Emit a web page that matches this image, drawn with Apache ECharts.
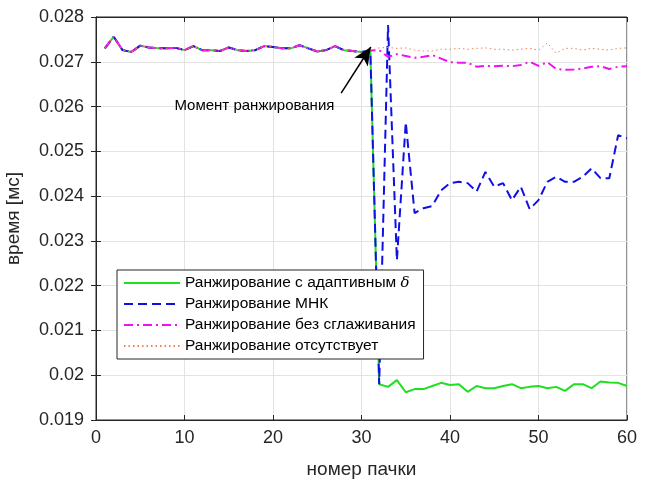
<!DOCTYPE html>
<html>
<head>
<meta charset="utf-8">
<script src="https://cdn.jsdelivr.net/npm/echarts@6/dist/echarts.min.js"></script>
<style>
  html, body { margin: 0; padding: 0; background: #fff; }
  #chart { width: 657px; height: 481px; }
</style>
</head>
<body>
<div id="chart"></div>
<script>
  // номер пачки
  var packets = [1, 2, 3, 4, 5, 6, 7, 8, 9, 10, 11, 12, 13, 14, 15, 16, 17, 18, 19, 20,
    21, 22, 23, 24, 25, 26, 27, 28, 29, 30, 31, 32, 33, 34, 35, 36, 37, 38, 39, 40,
    41, 42, 43, 44, 45, 46, 47, 48, 49, 50, 51, 52, 53, 54, 55, 56, 57, 58, 59, 60];

  // до момента ранжирования все кривые совпадают (пачки 1..31)
  var common = [0.02730, 0.02756, 0.02726, 0.02722, 0.02736, 0.02732, 0.02730, 0.02730, 0.02731, 0.02726,
    0.02735, 0.02726, 0.02726, 0.02724, 0.02732, 0.02726, 0.02724, 0.02726, 0.02735, 0.02733,
    0.02730, 0.02730, 0.02737, 0.02730, 0.02723, 0.02726, 0.02735, 0.02726, 0.02724, 0.02722,
    0.02725];

  // пачки 32..60
  var adaptiveTail = [0.01980, 0.01974, 0.01989, 0.01962, 0.01969, 0.01969, 0.01976, 0.01983, 0.01978,
    0.01980, 0.01963, 0.01976, 0.01971, 0.01971, 0.01976, 0.01980, 0.01971, 0.01974, 0.01976,
    0.01971, 0.01974, 0.01965, 0.01980, 0.01980, 0.01971, 0.01986, 0.01984, 0.01983, 0.01976];
  var mnkTail = [0.01980, 0.02782, 0.02257, 0.02565, 0.02362, 0.02373, 0.02378, 0.02413, 0.02429,
    0.02432, 0.02429, 0.02410, 0.02454, 0.02421, 0.02429, 0.02391, 0.02421, 0.02371, 0.02391,
    0.02432, 0.02443, 0.02432, 0.02432, 0.02443, 0.02462, 0.02440, 0.02440, 0.02536, 0.02529];
  var noSmoothTail = [0.02726, 0.02711, 0.02717, 0.02713, 0.02709, 0.02711, 0.02715, 0.02707, 0.02699,
    0.02698, 0.02698, 0.02689, 0.02691, 0.02690, 0.02691, 0.02690, 0.02693, 0.02700, 0.02691,
    0.02699, 0.02684, 0.02682, 0.02683, 0.02685, 0.02689, 0.02690, 0.02684, 0.02689, 0.02690];
  var noRankTail = [0.02731, 0.02732, 0.02730, 0.02731, 0.02726, 0.02724, 0.02724, 0.02728, 0.02728,
    0.02730, 0.02728, 0.02730, 0.02731, 0.02728, 0.02728, 0.02726, 0.02728, 0.02730, 0.02726,
    0.02742, 0.02719, 0.02730, 0.02730, 0.02726, 0.02730, 0.02728, 0.02726, 0.02730, 0.02731];

  var names = [
    'Ранжирование с адаптивным δ',
    'Ранжирование МНК',
    'Ранжирование без сглаживания',
    'Ранжирование отсутствует'
  ];

  var yTicks = [0.019, 0.02, 0.021, 0.022, 0.023, 0.024, 0.025, 0.026, 0.027, 0.028];

  // стрелка "Момент ранжирования": хвост и острие в координатах данных
  var arrowFrom = [27.7, 0.02630];
  var arrowTo = [31.05, 0.02733];
  var notePos = [17.9, 0.02601];

  function pairs(tail) {
    var ys = common.concat(tail);
    return packets.map(function (x, i) { return [x, ys[i]]; });
  }

  var font = 'Arial, "Liberation Sans", Helvetica, sans-serif';
  var chart = echarts.init(document.getElementById('chart'));

  var option = {
    backgroundColor: '#fff',
    animation: false,
    grid: {
      left: 96, right: 30, top: 17, bottom: 61,
      outerBoundsMode: 'none',
      containLabel: false,
      show: true, borderColor: '#262626', borderWidth: 1, backgroundColor: '#fff'
    },
    legend: {
      orient: 'vertical',
      left: 117, top: 270,
      padding: [5, 8, 5, 6],
      itemGap: 5,
      itemWidth: 56,
      itemHeight: 16,
      backgroundColor: '#fff',
      borderColor: '#262626',
      borderWidth: 1,
      borderRadius: 0,
      itemStyle: { opacity: 0 },
      formatter: function (name) {
        if (name === names[0]) {
          return 'Ранжирование с адаптивным {d|δ}';
        }
        return name;
      },
      textStyle: {
        fontFamily: font, fontSize: 15.5, color: '#000',
        rich: { d: { fontFamily: '"DejaVu Serif", serif', fontStyle: 'italic', fontSize: 15, color: '#000' } }
      },
      data: names
    },
    xAxis: [{
      type: 'value',
      min: 0, max: 60, interval: 10,
      name: 'номер пачки',
      nameLocation: 'middle',
      nameGap: 40,
      nameTextStyle: { fontFamily: font, fontSize: 19, color: '#262626' },
      axisLine: { show: true, onZero: false, lineStyle: { color: '#262626' } },
      axisTick: { show: true, inside: true, length: 5, lineStyle: { color: '#262626' } },
      axisLabel: { fontFamily: font, fontSize: 18, color: '#262626', margin: 9 },
      splitLine: { show: true, lineStyle: { color: '#e3e3e3' } }
    }, {
      type: 'value', position: 'top',
      min: 0, max: 60, interval: 10,
      axisLine: { show: true, lineStyle: { color: '#262626' } },
      axisTick: { show: true, inside: true, length: 5, lineStyle: { color: '#262626' } },
      axisLabel: { show: false },
      splitLine: { show: false }
    }],
    yAxis: [{
      type: 'value',
      min: 0.019, max: 0.028, interval: 0.001,
      name: 'время [мс]',
      nameLocation: 'middle',
      nameGap: 73,
      nameRotate: 90,
      nameTextStyle: { fontFamily: font, fontSize: 19, color: '#262626' },
      axisLine: { show: true, onZero: false, lineStyle: { color: '#262626' } },
      axisTick: { show: true, inside: true, length: 5, lineStyle: { color: '#262626' } },
      axisLabel: {
        fontFamily: font, fontSize: 18, color: '#262626', margin: 12,
        formatter: function (v) {
          var best = yTicks.reduce(function (a, b) { return Math.abs(b - v) < Math.abs(a - v) ? b : a; });
          return String(best);
        }
      },
      splitLine: { show: true, lineStyle: { color: '#e3e3e3' } }
    }, {
      type: 'value', position: 'right',
      min: 0.019, max: 0.028, interval: 0.001,
      axisLine: { show: true, lineStyle: { color: '#262626' } },
      axisTick: { show: true, inside: true, length: 5, lineStyle: { color: '#262626' } },
      axisLabel: { show: false },
      splitLine: { show: false }
    }],
    series: [{
      name: names[0],
      type: 'line',
      data: pairs(adaptiveTail),
      symbol: 'none',
      lineStyle: { color: '#1fe01f', width: 2, type: 'solid' },
      itemStyle: { color: '#1fe01f' }
    }, {
      name: names[1],
      type: 'line',
      data: pairs(mnkTail),
      symbol: 'none',
      lineStyle: { color: '#1010e6', width: 2, type: [9, 5] },
      itemStyle: { color: '#1010e6' }
    }, {
      name: names[2],
      type: 'line',
      data: pairs(noSmoothTail),
      symbol: 'none',
      lineStyle: { color: '#f010f0', width: 2, type: [9, 4, 2, 4] },
      itemStyle: { color: '#f010f0' }
    }, {
      name: names[3],
      type: 'line',
      data: pairs(noRankTail),
      symbol: 'none',
      lineStyle: { color: '#e8845e', width: 1, type: [1.5, 3] },
      itemStyle: { color: '#e8845e' },
      markLine: {
        silent: true,
        symbol: ['none', 'arrow'],
        symbolSize: [12, 18],
        label: { show: false },
        lineStyle: { color: '#000', width: 1.5, type: 'solid' },
        itemStyle: { color: '#000' },
        data: [[{ coord: arrowFrom }, { coord: arrowTo }]]
      },
      markPoint: {
        silent: true,
        symbol: 'rect',
        symbolSize: 1,
        itemStyle: { color: 'rgba(0,0,0,0)' },
        label: {
          show: true, position: 'inside',
          fontFamily: font, fontSize: 15, color: '#000',
          formatter: 'Момент ранжирования'
        },
        data: [{ coord: notePos }]
      }
    }]
  };

  chart.setOption(option);
</script>
</body>
</html>
